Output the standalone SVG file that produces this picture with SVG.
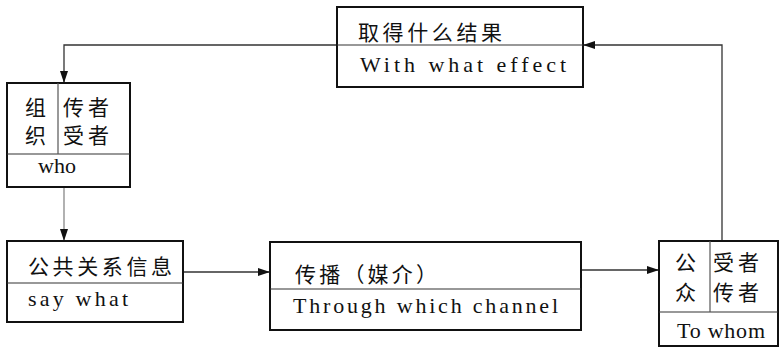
<svg xmlns="http://www.w3.org/2000/svg" width="779" height="348" viewBox="0 0 779 348">
<style>
.box{fill:#fff;stroke:#111;stroke-width:2}
.div{stroke:#333;stroke-width:1.2;fill:none}
.vdiv{stroke:#555;stroke-width:1.2;fill:none}
.zh{font-family:"Noto Sans CJK SC","Noto Sans",sans-serif;font-size:21px;fill:#111}
.en{font-family:"Liberation Serif","DejaVu Serif",serif;font-size:22px;fill:#111}
.c{stroke:#333;stroke-width:1.3;fill:none}
</style>
<defs>
<marker id="ah" markerWidth="12" markerHeight="8" refX="12" refY="4" orient="auto" markerUnits="userSpaceOnUse">
<path d="M0,0 L12,4 L0,8 Z" fill="#111"/>
</marker>
</defs>
<g id="connectors">
<path class="c" d="M337,45 H64 V83" marker-end="url(#ah)"/>
<path class="c" d="M64,187 V241" style="stroke:#888" marker-end="url(#ah)"/>
<path class="c" d="M183,272 H270" marker-end="url(#ah)"/>
<path class="c" d="M581,270 H659" marker-end="url(#ah)"/>
<path class="c" d="M722,241 V45 H583" marker-end="url(#ah)"/>
</g>
<g id="effect">
<rect class="box" x="337" y="7" width="246" height="80"/>
<line class="div" x1="337" y1="45" x2="583" y2="45"/>
<text class="zh" x="358" y="40" textLength="144" lengthAdjust="spacing">取得什么结果</text>
<text class="en" x="360" y="72" textLength="206" lengthAdjust="spacing">With what effect</text>
</g>
<g id="who">
<rect class="box" x="7" y="83" width="123" height="104"/>
<line class="div" x1="7" y1="154" x2="130" y2="154"/>
<line class="vdiv" x1="58" y1="83" x2="58" y2="154"/>
<text class="zh" x="25" y="115">组</text>
<text class="zh" x="25" y="143">织</text>
<text class="zh" x="63" y="115" textLength="46" lengthAdjust="spacing">传者</text>
<text class="zh" x="63" y="143" textLength="46" lengthAdjust="spacing">受者</text>
<text class="en" x="38" y="173" textLength="38" lengthAdjust="spacing">who</text>
</g>
<g id="saywhat">
<rect class="box" x="7" y="241" width="176" height="81"/>
<line class="div" x1="7" y1="283" x2="183" y2="283"/>
<text class="zh" x="28" y="274" textLength="144" lengthAdjust="spacing">公共关系信息</text>
<text class="en" x="28" y="306" textLength="100" lengthAdjust="spacing">say what</text>
</g>
<g id="channel">
<rect class="box" x="270" y="242" width="311" height="88"/>
<line class="div" x1="270" y1="289" x2="581" y2="289"/>
<text class="zh" x="295" y="282" textLength="142" lengthAdjust="spacing">传播（媒介）</text>
<text class="en" x="293" y="313" textLength="265" lengthAdjust="spacing">Through which channel</text>
</g>
<g id="towhom">
<rect class="box" x="659" y="241" width="119" height="105"/>
<line class="div" x1="659" y1="312" x2="778" y2="312"/>
<line class="vdiv" x1="710" y1="241" x2="710" y2="312"/>
<text class="zh" x="675" y="270">公</text>
<text class="zh" x="675" y="300">众</text>
<text class="zh" x="713" y="270" textLength="46" lengthAdjust="spacing">受者</text>
<text class="zh" x="713" y="300" textLength="46" lengthAdjust="spacing">传者</text>
<text class="en" x="677" y="338" textLength="88" lengthAdjust="spacing">To whom</text>
</g>
</svg>
